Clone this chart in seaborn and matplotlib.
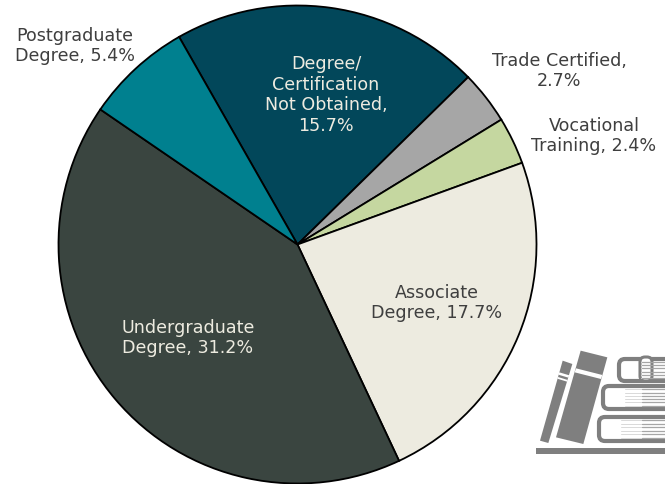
import matplotlib
matplotlib.use("Agg")
import matplotlib.pyplot as plt
import seaborn as sns
from matplotlib.patches import Polygon, Rectangle, FancyBboxPatch

categories = ["Degree/\nCertification\nNot Obtained,", "Trade Certified,", "Vocational\nTraining,",
              "Associate\nDegree,", "Undergraduate\nDegree,", "Postgraduate\nDegree,"]
values = [15.7, 2.7, 2.4, 17.7, 31.2, 5.4]
value_breaks = ["\n", "\n", " ", " ", " ", " "]
slice_colors = ["#02475A", "#A6A6A6", "#C5D7A0", "#EDEBE0", "#3A4540", "#00808F"]
label_colors = ["#EDEBE0", "#3F3F3F", "#3F3F3F", "#3F3F3F", "#EDEBE0", "#3F3F3F"]
label_px = [(326, 95), (559, 71), (594, 136), (437, 303), (188, 338), (75, 46)]

sns.set_theme(style="white")
plt.rcParams["font.family"] = ["DejaVu Sans"]

W, H = 665, 485
fig = plt.figure(figsize=(W / 100, H / 100), dpi=100, facecolor="white")
cx, cy, r = 297.5, 245.5, 239
ax = fig.add_axes([(cx - r) / W, 1 - (cy + r) / H, 2 * r / W, 2 * r / H])
ax.pie(values, colors=sns.color_palette(slice_colors), startangle=119.7, counterclock=False,
       radius=1, wedgeprops=dict(edgecolor="black", linewidth=1.3))
ax.set_xlim(-1, 1)
ax.set_ylim(-1, 1)
ax.set_aspect("equal")

ov = fig.add_axes([0, 0, 1, 1], facecolor="none")
ov.set_xlim(0, W)
ov.set_ylim(H, 0)
ov.axis("off")

for cat, v, br, col, (x, y) in zip(categories, values, value_breaks, label_colors, label_px):
    ov.text(x, y, f"{cat}{br}{v}%", ha="center", va="center", color=col,
            fontsize=12.6, linespacing=1.2)

# books icon
G = "#7F7F7F"
Z = lambda pts: [(520 + a / 3, 340 + b / 3) for a, b in pts]
ov.add_patch(Polygon(Z([(182, 35), (262, 55), (190, 315), (108, 295)]), fc=G, ec="none"))
ov.add_patch(Polygon(Z([(168, 88), (247, 108), (243, 120), (164, 100)]), fc="white", ec="none"))
ov.add_patch(Polygon(Z([(128, 65), (157, 75), (85, 312), (60, 305)]), fc=G, ec="none"))
ov.add_patch(Polygon(Z([(118, 100), (148, 109), (145, 116), (115, 107)]), fc="white", ec="none"))
ov.add_patch(Polygon(Z([(114, 114), (143, 123), (141, 128), (112, 119)]), fc="white", ec="none"))
ov.add_patch(Rectangle((536, 449), 129, 6, fc=G, ec="none"))
for x0, y0, y1 in [(619, 360, 382), (603, 387, 410), (599, 418, 442)]:
    ov.add_patch(FancyBboxPatch((x0, y0), 90, y1 - y0, boxstyle="round,pad=0,rounding_size=6",
                                fc="white", ec=G, lw=3, clip_on=True))
    for k in range(1, 7):
        yy = y0 + (y1 - y0) * k / 7
        ov.plot([x0 + 22, 642], [yy, yy], color="#D9D9D9", lw=0.7)
        ov.plot([642, 665], [yy, yy], color="#A6A6A6", lw=0.9)
ov.add_patch(FancyBboxPatch((640, 358), 12, 24, boxstyle="round,pad=0,rounding_size=5",
                            fc="white", ec=G, lw=2.2))

fig.savefig("out.png", dpi=100, facecolor="white")
